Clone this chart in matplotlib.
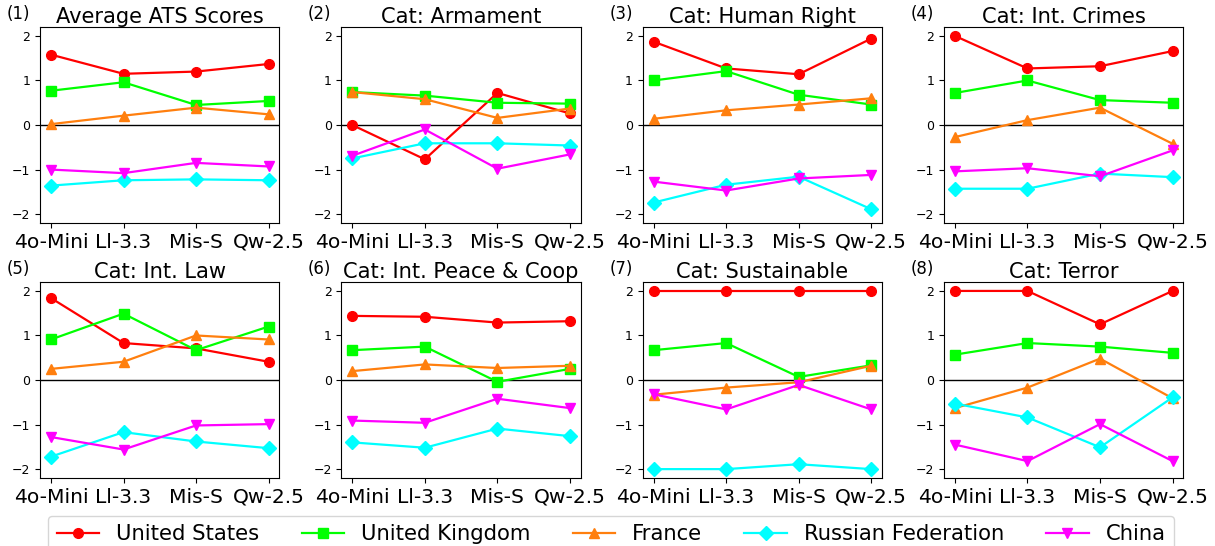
import numpy as np
import matplotlib
matplotlib.use("Agg")
import matplotlib.pyplot as plt

models = ["4o-Mini", "Ll-3.3", "Mis-S", "Qw-2.5"]
countries = ["United States", "United Kingdom", "France", "Russian Federation", "China"]
colors = ["red", "lime", "#ff7f0e", "cyan", "magenta"]
markers = ["o", "s", "^", "D", "v"]

titles = [
    "Average ATS Scores",
    "Cat: Armament",
    "Cat: Human Right",
    "Cat: Int. Crimes",
    "Cat: Int. Law",
    "Cat: Int. Peace & Coop",
    "Cat: Sustainable",
    "Cat: Terror",
]

# one row per country (US, UK, France, Russia, China), one column per model
avg_ats = [
    [1.58, 1.15, 1.20, 1.37],
    [0.77, 0.96, 0.45, 0.54],
    [0.02, 0.21, 0.39, 0.24],
    [-1.36, -1.24, -1.22, -1.24],
    [-1.00, -1.08, -0.85, -0.93],
]
armament = [
    [0.00, -0.77, 0.72, 0.26],
    [0.74, 0.66, 0.50, 0.48],
    [0.74, 0.58, 0.16, 0.37],
    [-0.75, -0.41, -0.41, -0.46],
    [-0.69, -0.10, -0.98, -0.66],
]
human_right = [
    [1.87, 1.27, 1.14, 1.94],
    [1.00, 1.21, 0.68, 0.46],
    [0.14, 0.33, 0.46, 0.60],
    [-1.74, -1.34, -1.16, -1.89],
    [-1.27, -1.47, -1.20, -1.12],
]
int_crimes = [
    [2.00, 1.27, 1.32, 1.66],
    [0.72, 1.00, 0.56, 0.50],
    [-0.27, 0.11, 0.39, -0.42],
    [-1.43, -1.43, -1.09, -1.17],
    [-1.04, -0.97, -1.15, -0.57],
]
int_law = [
    [1.84, 0.83, 0.71, 0.41],
    [0.91, 1.49, 0.67, 1.20],
    [0.25, 0.41, 1.00, 0.91],
    [-1.72, -1.17, -1.38, -1.53],
    [-1.28, -1.56, -1.02, -0.99],
]
int_peace = [
    [1.44, 1.42, 1.29, 1.32],
    [0.67, 0.75, -0.04, 0.25],
    [0.20, 0.35, 0.27, 0.32],
    [-1.40, -1.52, -1.09, -1.26],
    [-0.91, -0.96, -0.42, -0.63],
]
sustainable = [
    [2.00, 2.00, 2.00, 2.00],
    [0.67, 0.83, 0.07, 0.33],
    [-0.33, -0.17, -0.05, 0.32],
    [-2.00, -2.00, -1.89, -2.00],
    [-0.32, -0.66, -0.11, -0.66],
]
terror = [
    [2.00, 2.00, 1.25, 2.00],
    [0.57, 0.83, 0.75, 0.61],
    [-0.63, -0.17, 0.48, -0.41],
    [-0.53, -0.84, -1.51, -0.39],
    [-1.45, -1.82, -0.99, -1.82],
]

panels = [avg_ats, armament, human_right, int_crimes, int_law, int_peace, sustainable, terror]

fig, axes = plt.subplots(2, 4, figsize=(12.15, 5.46), dpi=100)
fig.subplots_adjust(left=0.033, right=0.974, top=0.9505, bottom=0.1245,
                    wspace=0.259, hspace=0.301)

x = np.arange(len(models))
for i, (ax, data, title) in enumerate(zip(axes.flat, panels, titles)):
    ax.axhline(0, color="black", lw=1, zorder=1)
    for vals, c, m, name in zip(data, colors, markers, countries):
        ax.plot(x, vals, color=c, marker=m, lw=1.6, markersize=7, label=name)
    ax.set_ylim(-2.2, 2.2)
    ax.set_yticks([-2, -1, 0, 1, 2])
    ax.set_xticks(x)
    ax.set_xticklabels(models, fontsize=14.6)
    ax.tick_params(axis="y", labelsize=9)
    ax.set_title(title, fontsize=15.1, pad=3)
    ax.text(-0.14, 1.02, f"({i + 1})", transform=ax.transAxes,
            fontsize=12, ha="left", va="bottom")

handles, labels = axes[0, 0].get_legend_handles_labels()
fig.legend(handles, labels, loc="upper center", bbox_to_anchor=(0.503, 0.075),
           ncol=5, fontsize=15.25, frameon=True)

fig.savefig("out.png", dpi=100)
